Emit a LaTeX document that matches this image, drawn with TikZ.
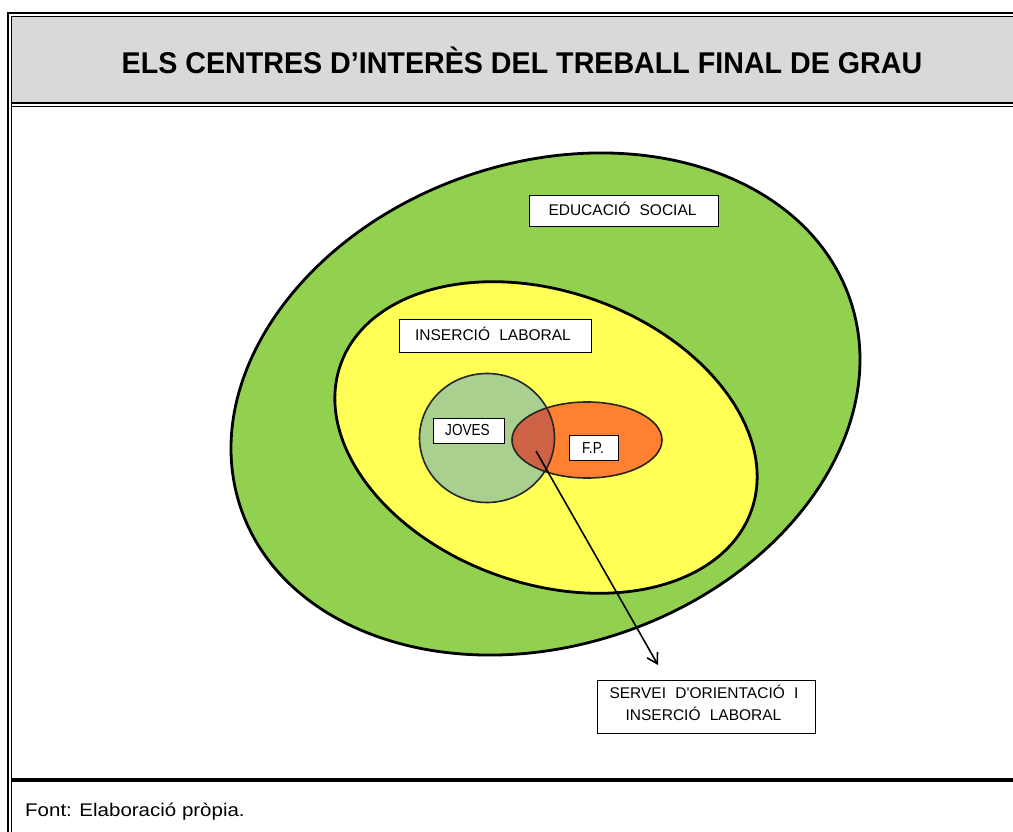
\documentclass[tikz,border=0pt]{standalone}
\usepackage{fontspec}
\setmainfont{Liberation Sans}
\newfontfamily\labfont{Liberation Sans}
\newfontfamily\narrowfont{Liberation Sans}[FakeStretch=0.85]
\newfontfamily\titlefont{Liberation Sans}[FakeStretch=0.955]
\newfontfamily\footfont{Liberation Sans}[FakeStretch=1.12]
\usetikzlibrary{arrows.meta}
\definecolor{hdrgray}{RGB}{217,217,217}
\definecolor{outergreen}{RGB}{146,208,80}
\definecolor{inyellow}{RGB}{255,255,85}
\definecolor{jovesgreen}{RGB}{169,208,142}
\definecolor{fporange}{RGB}{255,128,48}
\definecolor{overlapc}{RGB}{205,98,68}
\newcommand{\gap}{\hspace{0.6em}}
\begin{document}
\begin{tikzpicture}[x=1pt,y=1pt,
  labbox/.style={draw=black, line width=0.9pt, fill=white, inner sep=0pt},
  labtext/.style={anchor=base, inner sep=0pt, font=\labfont\fontsize{15.5}{18}\selectfont},
  narrowtext/.style={anchor=base, inner sep=0pt, font=\narrowfont\fontsize{16}{18}\selectfont},
  frame thick/.style={line width=2.6pt},
  frame thin/.style={line width=1.3pt},
  zone/.style={draw=black, line width=2.8pt},
  small zone/.style={draw=black!85, line width=1.6pt}]
\useasboundingbox (0,0) rectangle (1013,-832);
\clip (0,0) rectangle (1013,-832);
\fill[white] (0,0) rectangle (1013,-832);
% frame
\fill[hdrgray] (12.1,-16.9) rectangle (1020,-101.8);
\draw[frame thick] (8,-840) -- (8,-13.2) -- (1020,-13.2);
\draw[frame thin] (11.5,-840) -- (11.5,-16.3) -- (1020,-16.3);
\draw[line width=2.2pt] (11.5,-103.2) -- (1020,-103.2);
\draw[line width=1.6pt] (11.5,-106.5) -- (1020,-106.5);
\draw[line width=3.5pt] (11.5,-780) -- (1020,-780);
% title and footer
\node[anchor=base, inner sep=0pt, font=\titlefont\bfseries\fontsize{30}{34}\selectfont] (title) at (522,-73.5) {ELS CENTRES D’INTERÈS DEL TREBALL FINAL DE GRAU};
\node[anchor=base west, inner sep=0pt, font=\footfont\fontsize{18.3}{21}\selectfont] (foot) at (25,-816) {Font: Elaboració pròpia.};
% zones
\filldraw[zone, fill=outergreen] (545.5,-404) ellipse [x radius=322, y radius=241.2, rotate=19];
\filldraw[zone, fill=inyellow] (546,-437.5) ellipse [x radius=218, y radius=146, rotate=-19.6];
\fill[jovesgreen] (487,-438) ellipse [x radius=67.5, y radius=64.5];
\fill[fporange] (587,-440) ellipse [x radius=75, y radius=38];
\begin{scope}
  \clip (487,-438) ellipse [x radius=67.5, y radius=64.5];
  \fill[overlapc] (587,-440) ellipse [x radius=75, y radius=38];
\end{scope}
\draw[small zone] (487,-438) ellipse [x radius=67.5, y radius=64.5];
\draw[small zone] (587,-440) ellipse [x radius=75, y radius=38];
% labels
\node[labbox, minimum width=189pt, minimum height=31pt] (edu) at (623.5,-210.5) {};
\node[labtext] (edutext) at (622.5,-215) {EDUCACIÓ\gap SOCIAL};
\node[labbox, minimum width=192pt, minimum height=33pt] (ins) at (495,-335.5) {};
\node[labtext] (instext) at (493,-340) {INSERCIÓ\gap LABORAL};
\node[labbox, minimum width=71pt, minimum height=25pt] (joves) at (468.5,-430.5) {};
\node[narrowtext] (jovestext) at (467.5,-435) {JOVES};
\node[labbox, minimum width=49pt, minimum height=25pt] (fp) at (593.5,-447.5) {};
\node[narrowtext] (fptext) at (593,-453) {F.P.};
\node[labbox, minimum width=218pt, minimum height=53pt] (servei) at (706,-706.5) {};
\node[labtext] (servei1) at (704,-698) {SERVEI\gap D'ORIENTACIÓ\gap I};
\node[labtext] (servei2) at (703.5,-720) {INSERCIÓ\gap LABORAL};
% arrow
\coordinate (astart) at (536,-451);
\coordinate (atip) at (658,-665);
\draw[line width=1.6pt, -{Straight Barb[length=10pt,width=12pt]}] (astart) -- (atip);
\end{tikzpicture}
\end{document}
